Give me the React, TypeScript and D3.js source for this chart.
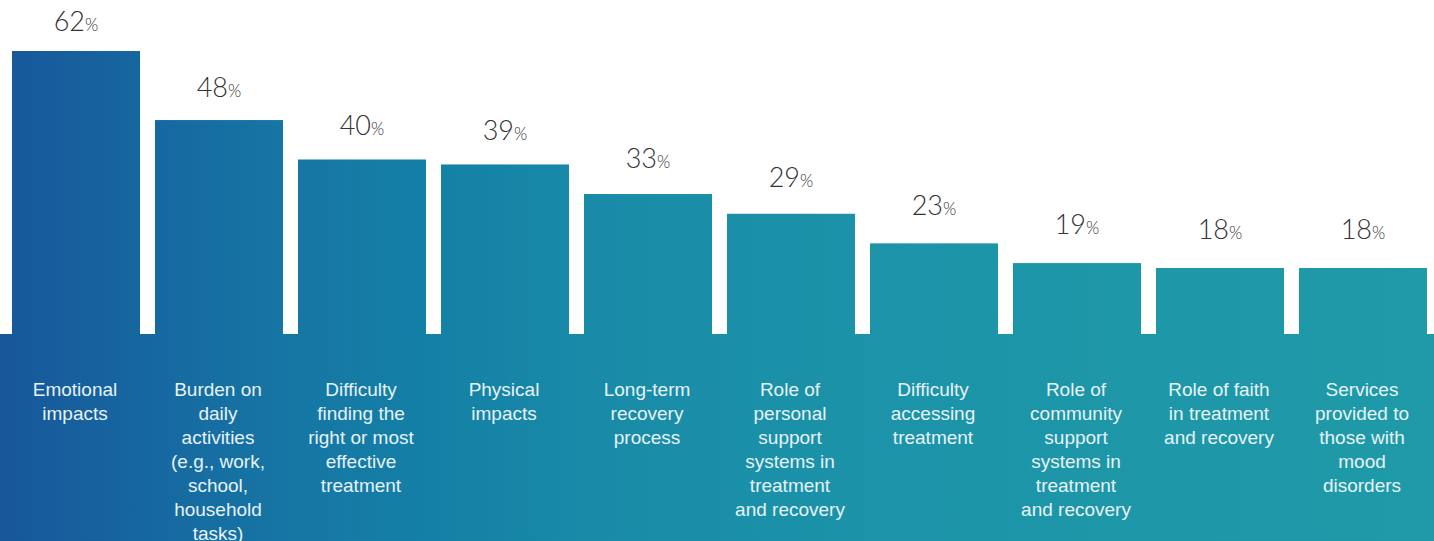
import React from "react";
import * as d3 from "d3";

const categories: string[][] = [
  ["Emotional", "impacts"],
  ["Burden on", "daily", "activities", "(e.g., work,", "school,", "household", "tasks)"],
  ["Difficulty", "finding the", "right or most", "effective", "treatment"],
  ["Physical", "impacts"],
  ["Long-term", "recovery", "process"],
  ["Role of", "personal", "support", "systems in", "treatment", "and recovery"],
  ["Difficulty", "accessing", "treatment"],
  ["Role of", "community", "support", "systems in", "treatment", "and recovery"],
  ["Role of faith", "in treatment", "and recovery"],
  ["Services", "provided to", "those with", "mood", "disorders"],
];
const values: number[] = [62, 48, 40, 39, 33, 29, 23, 19, 18, 18];

const W = 1434;
const H = 541;

export default function App() {
  const x = d3
    .scaleBand<number>()
    .domain(d3.range(values.length))
    .range([12, 12 + 9 * 143 + 128])
    .paddingInner(15 / 143)
    .paddingOuter(0);
  const y = d3.scaleLinear().domain([0, 62]).range([356.8, 51]);
  const labelY = d3.scaleLinear().domain([18, 62]).range([239, 31]);
  const bandTop = 334;

  const stops = [
    [0, "#17579a"],
    [0.1, "#1667a0"],
    [0.2, "#1676a4"],
    [0.3, "#1480a6"],
    [0.42, "#198ba8"],
    [0.6, "#1c93a9"],
    [0.8, "#1e97a8"],
    [1, "#1f9aa8"],
  ];

  return (
    <div style={{ position: "fixed", left: 0, top: 0 }}>
      <svg width={W} height={H} style={{ display: "block" }}>
        <defs>
          <linearGradient id="g" gradientUnits="userSpaceOnUse" x1={0} y1={0} x2={W} y2={0}>
            {stops.map(([o, c], i) => (
              <stop key={i} offset={o as number} stopColor={c as string} />
            ))}
          </linearGradient>
        </defs>
        <rect x={0} y={0} width={W} height={H} fill="#ffffff" />
        {values.map((v, i) => (
          <rect
            key={"b" + i}
            x={x(i)}
            y={y(v)}
            width={x.bandwidth()}
            height={y(0) - y(v)}
            fill="url(#g)"
          />
        ))}
        <rect x={0} y={bandTop} width={W} height={H - bandTop} fill="url(#g)" />
        {values.map((v, i) => {
          const cx = (x(i) as number) + x.bandwidth() / 2;
          return (
            <text
              key={"v" + i}
              x={cx}
              y={labelY(v)}
              textAnchor="middle"
              fill="#333333"
              fontFamily="Lato, 'Liberation Sans', Arial, sans-serif"
              fontWeight={300}
            >
              <tspan fontSize={27}>{v}</tspan>
              <tspan fontSize={17}>%</tspan>
            </text>
          );
        })}
        {categories.map((lines, i) => {
          const cx = (x(i) as number) + x.bandwidth() / 2 - 1;
          return (
            <text
              key={"c" + i}
              x={cx}
              y={396}
              textAnchor="middle"
              fill="#e6f3f6"
              fontSize={19}
              fontFamily="'Liberation Sans', Arial, sans-serif"
            >
              {lines.map((l, j) => (
                <tspan key={j} x={cx} dy={j === 0 ? 0 : 24}>
                  {l}
                </tspan>
              ))}
            </text>
          );
        })}
      </svg>
    </div>
  );
}
